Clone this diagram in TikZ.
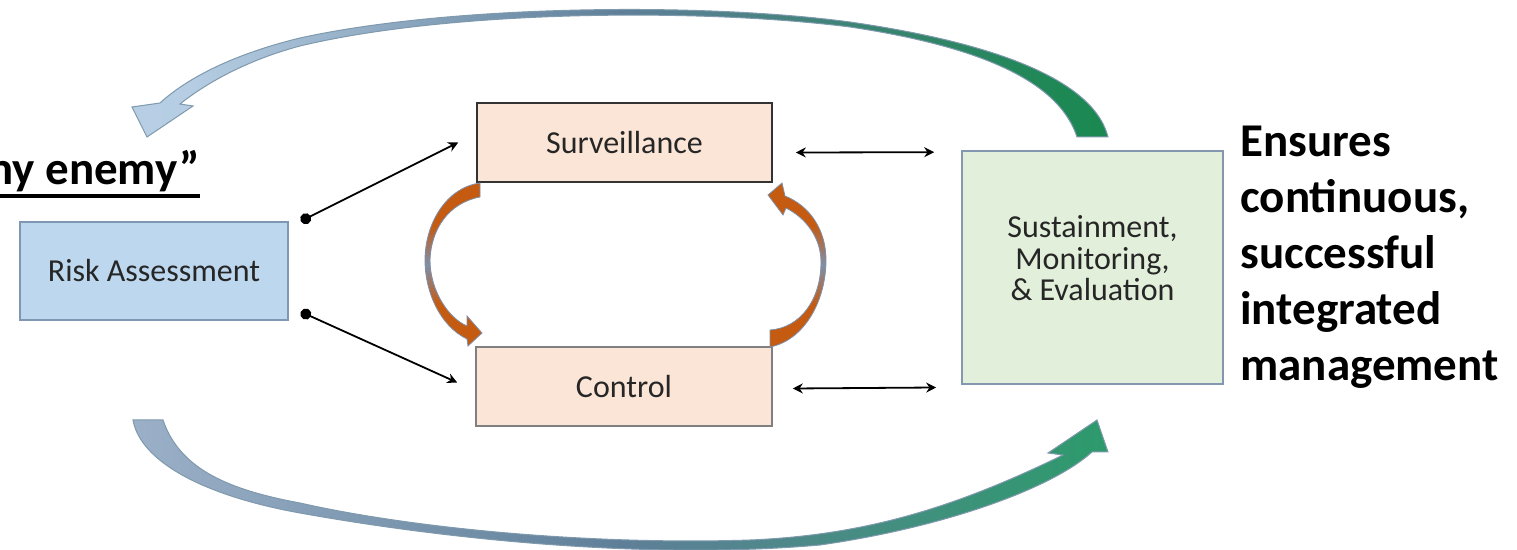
\documentclass[tikz,border=0pt]{standalone}
\usepackage{fontspec}
\setmainfont{Carlito}
\usetikzlibrary{arrows.meta,calc}

\definecolor{riskfill}{HTML}{BDD7EE}
\definecolor{riskline}{HTML}{7F97B2}
\definecolor{peach}{HTML}{FBE5D6}
\definecolor{sustfill}{HTML}{E2EFDA}
\definecolor{sustline}{HTML}{8497B0}
\definecolor{boxtext}{HTML}{262626}
\definecolor{rust}{HTML}{C55A11}
\definecolor{slate}{HTML}{7F8FA8}
\definecolor{skyblue}{HTML}{C5DBF0}
\definecolor{steel}{HTML}{5F7F99}
\definecolor{leaf}{HTML}{0F8A45}
\definecolor{greyblue}{HTML}{A6B9D0}
\definecolor{brightleaf}{HTML}{17A658}

% colour runs for the curved arrows
\pgfdeclareverticalshading{loopshade}{100bp}{color(0bp)=(rust); color(38bp)=(rust); color(50bp)=(slate); color(62bp)=(rust); color(100bp)=(rust)}
\pgfdeclarehorizontalshading{topshade}{100bp}{color(0bp)=(skyblue); color(28bp)=(skyblue!85!steel); color(50bp)=(steel); color(72bp)=(leaf!80!steel); color(82bp)=(leaf); color(100bp)=(leaf)}
\pgfdeclarehorizontalshading{bottomshade}{100bp}{color(0bp)=(greyblue); color(25bp)=(greyblue!85!steel); color(50bp)=(steel); color(75bp)=(brightleaf!70!steel); color(88bp)=(brightleaf); color(100bp)=(brightleaf)}

\tikzset{
  box/.style={draw, line width=0.8pt, text=boxtext, inner sep=0pt,
    font=\fontsize{16pt}{19pt}\selectfont, align=center},
  boxlabel/.style={text=boxtext, inner sep=0pt, align=center,
    font=\fontsize{16pt}{15.75pt}\selectfont},
  link/.style={line width=0.9pt, black},
  both/.style={{Stealth[length=5pt,width=5pt]}-{Stealth[length=5pt,width=5pt]}},
  dotstart/.style={{Circle[length=5.5pt]}-{Stealth[length=5pt,width=5pt]}},
  loop/.style={draw=slate, line width=0.4pt, shading=loopshade},
  bigtop/.style={draw=steel!80, line width=0.5pt, shading=topshade},
  bigbottom/.style={draw=steel!80, line width=0.5pt, shading=bottomshade},
  headline/.style={font=\bfseries\fontsize{23.5pt}{28pt}\selectfont, text=black, inner sep=0pt}
}

\begin{document}
\begin{tikzpicture}[x=0.5pt, y=-0.5pt]
\useasboundingbox (0,0) rectangle (1517,550);
\clip (0,0) rectangle (1517,550);

% boxes
\node[box, fill=riskfill, draw=riskline, minimum width=134pt, minimum height=49pt] (risk) at (154,271) {Risk Assessment};
\node[box, fill=peach, draw=black!80, minimum width=147.5pt, minimum height=39.5pt] (surv) at (624.5,142.5) {Surveillance};
\node[box, fill=peach, draw=black!50, minimum width=148pt, minimum height=39.5pt] (ctrl) at (624,386.5) {Control};
\node[box, fill=sustfill, draw=sustline, minimum width=130.5pt, minimum height=116.5pt] (sust) at (1092.5,267.5) {};
\node[boxlabel] (susttext) at ([yshift=4.5pt]sust.center) {Sustainment,\\Monitoring,\\\& Evaluation};

% side texts
\node[headline, anchor=base east] (enemy) at (200,185) {my enemy”};
\draw[line width=1.6pt] ([yshift=-5.5pt]enemy.base west) -- ([yshift=-5.5pt]enemy.base east);
\node[headline, anchor=north west, align=left] (goal) at (1240,126) {Ensures\\continuous,\\successful\\integrated\\management};

% connectors
\draw[link, dotstart] ([xshift=6pt]risk.north east) -- ([xshift=-9pt]surv.west);
\draw[link, dotstart] ([xshift=6pt,yshift=4.5pt]risk.south east) -- ([xshift=-9pt,yshift=2pt]ctrl.west);
\draw[link, both] ([xshift=11.5pt,yshift=-5pt]surv.east) -- ($(sust.north west)+(-27,2)$);
\draw[link, both] ([xshift=10pt,yshift=-1pt]ctrl.east) -- ($(sust.west |- ctrl.east)+(-25,1)$);

% small curved loop arrows between surveillance and control
\path[loop] (480,183) -- (480,197)
  .. controls (448,203) and (431,230) .. (430,260)
  .. controls (430,290) and (448,318) .. (467,326)
  -- (467,316) -- (482,333) -- (468,346) -- (467,339)
  .. controls (440,326) and (425,292) .. (425,260)
  .. controls (425,225) and (445,188) .. (480,183) -- cycle;
\path[loop] (770,330) -- (770,347)
  .. controls (805,340) and (826,300) .. (826,260)
  .. controls (826,230) and (810,206) .. (785,196)
  -- (782,183) -- (768,195) -- (783,215) -- (786,208)
  .. controls (806,218) and (821,238) .. (821,262)
  .. controls (821,300) and (800,328) .. (770,330) -- cycle;

% large return arrow across the top
\path[bigtop] (1077,137) -- (1108,137)
  .. controls (1095,85) and (1010,45) .. (850,22)
  .. controls (700,2) and (450,5) .. (300,38)
  .. controls (230,55) and (185,80) .. (160,103)
  -- (132,107) -- (147,137) -- (193,106) -- (180,104)
  .. controls (200,88) and (240,62) .. (300,46)
  .. controls (450,10) and (700,8) .. (850,27)
  .. controls (990,48) and (1060,85) .. (1077,137) -- cycle;

% large forward arrow across the bottom
\path[bigbottom] (133,420) -- (163,420)
  .. controls (180,470) and (230,490) .. (300,503)
  .. controls (420,530) and (600,545) .. (750,540)
  .. controls (870,535) and (960,505) .. (1063,455)
  -- (1048,453) -- (1097,420) -- (1108,452) -- (1092,452)
  .. controls (1050,490) and (940,528) .. (820,545)
  .. controls (650,560) and (450,540) .. (300,513)
  .. controls (200,495) and (140,460) .. (133,420) -- cycle;
\end{tikzpicture}
\end{document}
